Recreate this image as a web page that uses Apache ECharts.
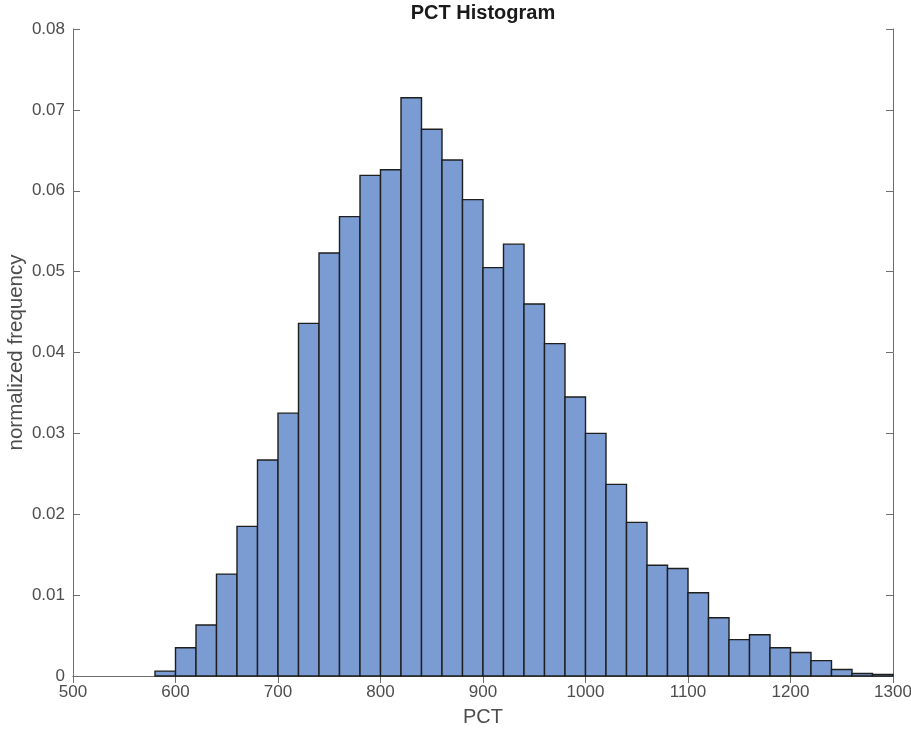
<!DOCTYPE html>
<html>
<head>
<meta charset="utf-8">
<script src="https://cdn.jsdelivr.net/npm/echarts@6/dist/echarts.min.js"></script>
<style>
html,body{margin:0;padding:0;background:#fff;}
#chart{width:911px;height:734px;}
</style>
</head>
<body>
<div id="chart"></div>
<script>
// Histogram bins: left edges (PCT) and normalized frequency per bin (width 20)
const binEdges = [580, 600, 620, 640, 660, 680, 700, 720, 740, 760, 780, 800, 820, 840, 860, 880,
  900, 920, 940, 960, 980, 1000, 1020, 1040, 1060, 1080, 1100, 1120, 1140, 1160, 1180, 1200,
  1220, 1240, 1260, 1280];
const binWidth = 20;
const frequencies = [0.0006, 0.0035, 0.0063, 0.0126, 0.0185, 0.0267, 0.0325, 0.0436, 0.0523, 0.0568,
  0.0619, 0.0626, 0.0715, 0.0676, 0.0638, 0.0589, 0.0505, 0.0534, 0.0460, 0.0411, 0.0345, 0.0300,
  0.0237, 0.0190, 0.0137, 0.0133, 0.0103, 0.0072, 0.0045, 0.0051, 0.0035, 0.0029, 0.0019, 0.0008,
  0.0003, 0.0002];
const xTicks = [500, 600, 700, 800, 900, 1000, 1100, 1200, 1300];
const yTicks = [0, 0.01, 0.02, 0.03, 0.04, 0.05, 0.06, 0.07, 0.08];

const data = binEdges.map((e, i) => [e, e + binWidth, frequencies[i]]);

const font = 'Liberation Sans, Arial, Helvetica, sans-serif';
const labelColor = '#4d4d4d';
const frameColor = '#6e6e6e';

const chart = echarts.init(document.getElementById('chart'), null, {renderer: 'canvas'});

const tickCommon = {show: true, inside: true, length: 7, lineStyle: {color: frameColor, width: 1}};

chart.setOption({
  animation: false,
  backgroundColor: '#ffffff',
  title: {
    text: 'PCT Histogram',
    left: 483, top: 3, padding: 0, textAlign: 'center',
    textStyle: {fontFamily: font, fontSize: 20, fontWeight: 'bold', color: '#1a1a1a'}
  },
  grid: {left: 73, top: 29, right: 18, bottom: 58, show: false, outerBoundsMode: 'none', containLabel: false},
  xAxis: [{
    type: 'value', min: xTicks[0], max: xTicks[xTicks.length - 1], interval: 100,
    name: 'PCT', nameLocation: 'middle', nameGap: 31, nameMoveOverlap: false,
    nameTextStyle: {fontFamily: font, fontSize: 20, color: labelColor},
    axisLine: {show: true, onZero: false, lineStyle: {color: frameColor, width: 1}},
    axisTick: tickCommon,
    axisLabel: {fontFamily: font, fontSize: 17, color: labelColor, margin: 8,
      formatter: v => String(v)},
    splitLine: {show: false}
  }, {
    type: 'value', position: 'top', min: xTicks[0], max: xTicks[xTicks.length - 1], interval: 100,
    axisLine: {show: true, lineStyle: {color: frameColor, width: 1}},
    axisTick: tickCommon, axisLabel: {show: false}, splitLine: {show: false}
  }],
  yAxis: [{
    type: 'value', min: yTicks[0], max: yTicks[yTicks.length - 1], interval: 0.01,
    name: 'normalized frequency', nameLocation: 'middle', nameGap: 46, nameMoveOverlap: false,
    nameTextStyle: {fontFamily: font, fontSize: 20.5, color: labelColor},
    axisLine: {show: true, lineStyle: {color: frameColor, width: 1}},
    axisTick: tickCommon,
    axisLabel: {fontFamily: font, fontSize: 17, color: labelColor, margin: 8,
      formatter: v => v === 0 ? '0' : v.toFixed(2)},
    splitLine: {show: false}
  }, {
    type: 'value', position: 'right', min: yTicks[0], max: yTicks[yTicks.length - 1], interval: 0.01,
    axisLine: {show: true, lineStyle: {color: frameColor, width: 1}},
    axisTick: tickCommon, axisLabel: {show: false}, splitLine: {show: false}
  }],
  series: [{
    type: 'custom',
    xAxisIndex: 0, yAxisIndex: 0,
    data: data,
    encode: {x: [0, 1], y: 2},
    renderItem: function (params, api) {
      const p0 = api.coord([api.value(0), 0]);
      const p1 = api.coord([api.value(1), api.value(2)]);
      return {
        type: 'rect',
        shape: {x: p0[0], y: p1[1], width: p1[0] - p0[0], height: p0[1] - p1[1]},
        style: {fill: '#7a9cd3', stroke: '#1e1e1e', lineWidth: 1.4}
      };
    },
    z: 1
  }]
});
</script>
</body>
</html>
